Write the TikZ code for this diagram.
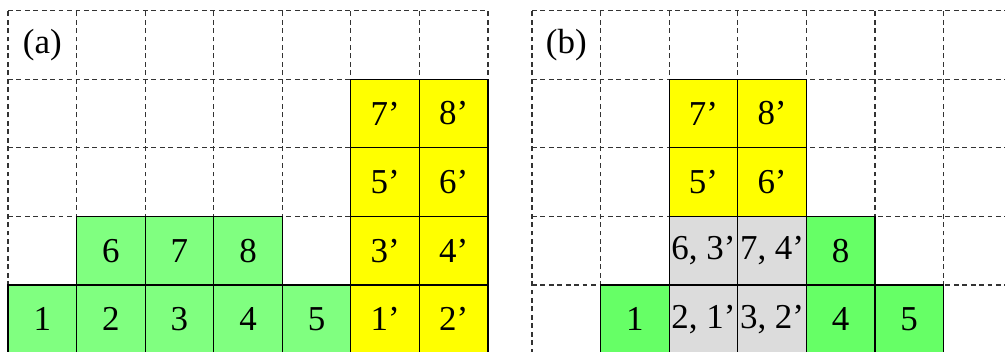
\documentclass[tikz,border=0pt]{standalone}
\usepackage{fontspec}
\setmainfont{Liberation Serif}
\definecolor{greenA}{HTML}{80FF80}
\definecolor{greenB}{HTML}{66FF66}
\definecolor{yel}{HTML}{FFFF00}
\definecolor{gry}{HTML}{DCDCDC}
\definecolor{gridc}{HTML}{333333}
\tikzset{
  gridline/.style={draw=gridc, line width=0.5pt, dash pattern=on 2pt off 1.5pt},
  cellbox/.style={draw=black, line width=0.5pt, minimum width=1cm, minimum height=1cm, inner sep=0pt, font=\fontsize{14.5}{17}\selectfont},
  ga/.style={cellbox, fill=greenA},
  gb/.style={cellbox, fill=greenB},
  yc/.style={cellbox, fill=yel},
  gc/.style={cellbox, fill=gry},
  lab/.style={inner sep=0pt, font=\fontsize{14.5}{17}\selectfont}
}
\begin{document}
\begin{tikzpicture}
\clip (-0.117,0.022) rectangle (14.539,5.155);
% grids
\draw[gridline] (0,0) grid (7,5);
\begin{scope}[xshift=7.642cm]
\draw[gridline] (0,0) grid (7,5);
\end{scope}
% (a)
\node[lab] (la) at (0.5,4.5) {(a)};
\node[ga] (a1) at (0.5,0.5) {1};
\node[ga] (a2) at (1.5,0.5) {2};
\node[ga] (a3) at (2.5,0.5) {3};
\node[ga] (a4) at (3.5,0.5) {4};
\node[ga] (a5) at (4.5,0.5) {5};
\node[yc] (a1p) at (5.5,0.5) {1’};
\node[yc] (a2p) at (6.5,0.5) {2’};
\node[ga] (a6) at (1.5,1.5) {6};
\node[ga] (a7) at (2.5,1.5) {7};
\node[ga] (a8) at (3.5,1.5) {8};
\node[yc] (a3p) at (5.5,1.5) {3’};
\node[yc] (a4p) at (6.5,1.5) {4’};
\node[yc] (a5p) at (5.5,2.5) {5’};
\node[yc] (a6p) at (6.5,2.5) {6’};
\node[yc] (a7p) at (5.5,3.5) {7’};
\node[yc] (a8p) at (6.5,3.5) {8’};
% (b)
\begin{scope}[xshift=7.642cm]
\node[lab] (lb) at (0.5,4.5) {(b)};
\node[gb] (b1) at (1.5,0.5) {1};
\node[gc] (b21) at (2.5,0.5) {2, 1’};
\node[gc] (b32) at (3.5,0.5) {3, 2’};
\node[gb] (b4) at (4.5,0.5) {4};
\node[gb] (b5) at (5.5,0.5) {5};
\node[gc] (b63) at (2.5,1.5) {6, 3’};
\node[gc] (b74) at (3.5,1.5) {7, 4’};
\node[gb] (b8) at (4.5,1.5) {8};
\node[yc] (b5p) at (2.5,2.5) {5’};
\node[yc] (b6p) at (3.5,2.5) {6’};
\node[yc] (b7p) at (2.5,3.5) {7’};
\node[yc] (b8p) at (3.5,3.5) {8’};
\end{scope}
\end{tikzpicture}
\end{document}
